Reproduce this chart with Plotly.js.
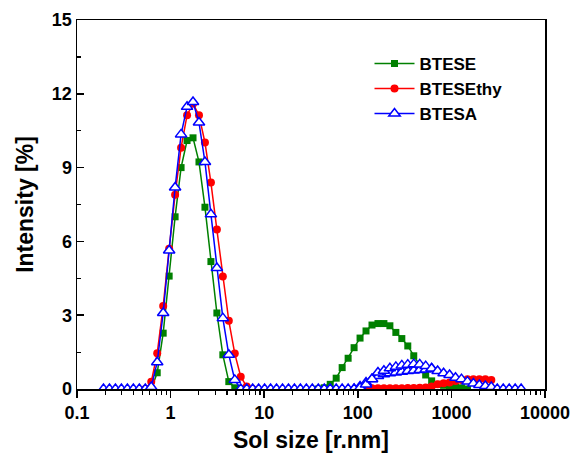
<!DOCTYPE html>
<html>
<head>
<meta charset="utf-8">
<script src="https://cdn.plot.ly/plotly-3.0.1.min.js"></script>
<style>html,body{margin:0;padding:0;background:#fff;}#chart{width:572px;height:453px;}</style>
</head>
<body>
<div id="chart"></div>
<script>
// BTESE (green squares)
const bteseX = [0.6213,0.7195,0.8332,0.9649,1.117,1.294,1.499,1.736,2.010,2.328,2.696,3.122,3.615,4.187,4.849,5.615,
  37.84,43.82,50.75,58.77,68.06,78.82,91.28,105.7,122.4,141.8,164.2,190.1,220.2,255.0,295.3,342.0,396.1,458.7,531.2,615.1,712.4,825.0,955.4,1106,1281,1484];
const bteseY = [0,0.66,2.27,4.59,7.00,9.00,10.10,10.21,9.23,7.39,5.18,3.09,1.39,0.30,0.05,0,
  0,0.05,0.19,0.44,0.87,1.25,1.68,2.07,2.36,2.60,2.66,2.66,2.57,2.30,2.05,1.75,1.35,0.94,0.57,0.33,0.19,0.15,0.10,0.08,0.05,0];

// BTESEthy (red circles)
const btesethyX = [0.5365,0.6213,0.7195,0.8332,0.9649,1.117,1.294,1.499,1.736,2.010,2.328,2.696,3.122,3.615,4.187,4.849,5.615,6.503,7.531,
  105.7,122.4,141.8,164.2,190.1,220.2,255.0,295.3,342.0,396.1,458.7,531.2,615.1,712.4,825.0,955.4,1106,1281,1484,1718,1990,2305,2669];
const btesethyY = [0,0.29,1.45,3.37,5.70,7.90,9.81,11.13,11.60,11.13,10.02,8.39,6.48,4.57,2.77,1.44,0.50,0.10,0,
  0,0.03,0.03,0.03,0.03,0.03,0.03,0.03,0.04,0.04,0.05,0.06,0.10,0.19,0.23,0.26,0.33,0.37,0.40,0.40,0.40,0.40,0.37];

// BTESA (blue open triangles), main run
const btesaX = [0.1918,0.2222,0.2574,0.2981,0.3453,0.4000,0.4632,0.5365,0.6213,0.7195,0.8332,0.9649,1.117,1.294,1.499,1.736,2.010,2.328,2.696,3.122,3.615,4.187,4.849,5.615,6.503,7.531,8.721,10.10,11.70,13.54,15.69,18.17,21.04,24.36,28.21,32.67,37.84,43.82,50.75,58.77,68.06,78.82,91.28,105.7,122.4,141.8,164.2,190.1,220.2,255.0,295.3,342.0,396.1,458.7,531.2,615.1,712.4,825.0,955.4,1106,1281,1484,1718,1990,2305,2669,3091,3580,4145,4801,5560];
const btesaY = [0,0,0,0,0,0,0,0,0.08,1.09,3.09,5.63,8.19,10.35,11.47,11.67,10.83,9.23,7.10,4.92,2.88,1.39,0.37,0,0,0,0,0,0,0,0,0,0,0,0,0,0,0,0,0,0,0,0,0.05,0.18,0.40,0.67,0.74,0.84,0.90,0.96,0.99,1.01,1.00,0.93,0.83,0.73,0.64,0.57,0.46,0.40,0.30,0.22,0.16,0.12,0.08,0,0,0,0,0];
// BTESA, second (lower) run in the 100-600 nm hump
const btesa2X = [91.28,105.7,122.4,141.8,164.2,190.1,220.2,255.0,295.3,342.0,396.1,458.7,531.2,615.1];
const btesa2Y = [0,0.10,0.26,0.41,0.53,0.60,0.64,0.67,0.70,0.73,0.75,0.77,0.79,0.83];

const xTickVals = [0.1,1,10,100,1000,10000];
const xTickText = ['0.1','1','10','100','1000','10000'];
const yTickVals = [0,3,6,9,12,15];

const minorX = [];
for (let d = 0.1; d < 10000; d *= 10) { for (let k = 2; k <= 9; k++) minorX.push(+(d*k).toPrecision(3)); }

const FONT = 'Liberation Sans, Arial, sans-serif';
const blueMarker = {symbol: 'triangle-up', size: 10, color: '#ffffff', line: {color: '#0000ff', width: 1.5}};

const traces = [
  {x: bteseX, y: bteseY, name: 'BTESE', type: 'scatter', mode: 'lines+markers',
   line: {color: '#008000', width: 1.5}, marker: {symbol: 'square', size: 7, color: '#008000'}},
  {x: btesethyX, y: btesethyY, name: 'BTESEthy', type: 'scatter', mode: 'lines+markers',
   line: {color: '#ff0000', width: 1.5}, marker: {symbol: 'circle', size: 8, color: '#ff0000'}},
  {x: btesa2X, y: btesa2Y, name: 'BTESA', legendgroup: 'btesa', showlegend: false, type: 'scatter', mode: 'lines+markers',
   line: {color: '#0000ff', width: 1.5}, marker: blueMarker},
  {x: btesaX, y: btesaY, name: 'BTESA', legendgroup: 'btesa', type: 'scatter', mode: 'lines+markers',
   line: {color: '#0000ff', width: 1.5}, marker: blueMarker}
];

const layout = {
  width: 572, height: 453,
  margin: {l: 77, r: 27, t: 20, b: 64},
  paper_bgcolor: '#ffffff', plot_bgcolor: '#ffffff',
  font: {family: FONT, color: '#000000', size: 18, weight: 'bold'},
  showlegend: true,
  legend: {x: 0.625, y: 0.93, xanchor: 'left', yanchor: 'top', bgcolor: 'rgba(0,0,0,0)',
           itemwidth: 40, font: {family: FONT, size: 17, weight: 'bold', color: '#000'}, tracegroupgap: 0},
  xaxis: {
    type: 'log', range: [-1, 4],
    tickvals: xTickVals, ticktext: xTickText,
    ticks: 'outside', ticklen: 7, tickwidth: 1.5, tickcolor: '#000',
    minor: {tickvals: minorX, ticks: 'outside', ticklen: 4, tickwidth: 1.2, tickcolor: '#000'},
    showline: true, linecolor: '#000', linewidth: 1.5, mirror: true,
    showgrid: false, zeroline: false,
    tickfont: {family: FONT, size: 18, weight: 'bold'},
    title: {text: 'Sol size [r.nm]', font: {family: FONT, size: 23, weight: 'bold'}, standoff: 10}
  },
  yaxis: {
    range: [0, 15],
    tickvals: yTickVals,
    ticks: 'inside', ticklen: 7, tickwidth: 1.5, tickcolor: '#000',
    minor: {dtick: 1.5, ticks: 'inside', ticklen: 4, tickwidth: 1.2, tickcolor: '#000'},
    showline: true, linecolor: '#000', linewidth: 1.5, mirror: true,
    showgrid: false, zeroline: false,
    tickfont: {family: FONT, size: 18, weight: 'bold'},
    title: {text: 'Intensity [%]', font: {family: FONT, size: 23, weight: 'bold'}, standoff: 12}
  }
};

Plotly.newPlot('chart', traces, layout, {displayModeBar: false, staticPlot: true});
</script>
</body>
</html>
